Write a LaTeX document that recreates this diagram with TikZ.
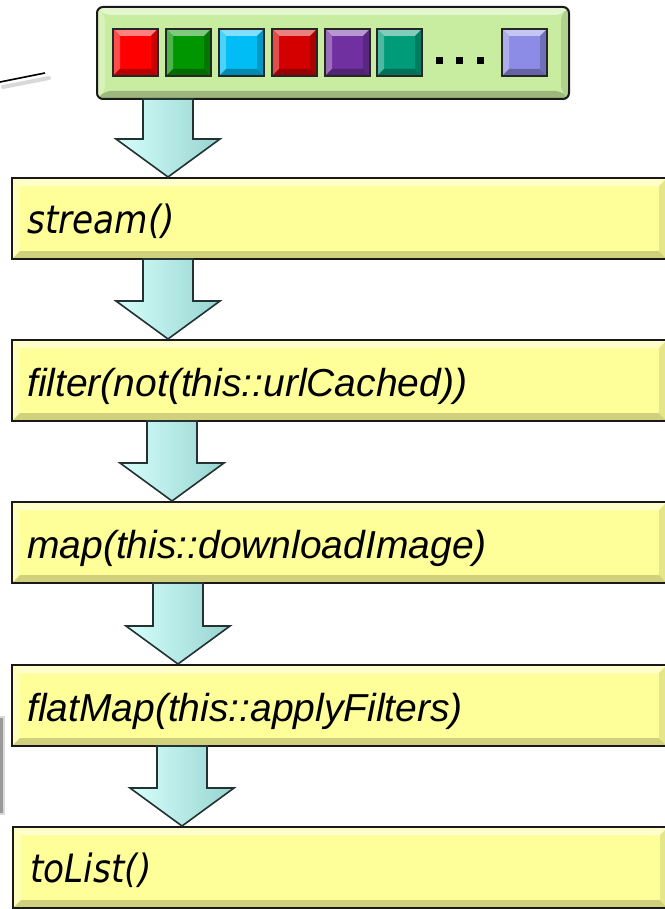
\documentclass[tikz,border=0pt]{standalone}
\usepackage{fontspec}
\setmainfont{Liberation Sans}
\newfontfamily\tahomalike[FakeStretch=0.88]{DejaVu Sans}
\usetikzlibrary{calc}

\definecolor{yellowfill}{RGB}{255,255,153}
\definecolor{greenfill}{RGB}{200,236,160}
\definecolor{cRed}{RGB}{255,0,0}
\definecolor{cGreen}{RGB}{0,150,0}
\definecolor{cCyan}{RGB}{0,190,245}
\definecolor{cDRed}{RGB}{212,0,0}
\definecolor{cPurple}{RGB}{112,48,160}
\definecolor{cTeal}{RGB}{0,155,120}
\definecolor{cLav}{RGB}{140,140,230}
\definecolor{arrowlight}{RGB}{215,255,252}
\definecolor{arrowmid}{RGB}{200,252,248}
\definecolor{arrowdark}{RGB}{150,212,208}
\definecolor{arrowline}{RGB}{35,50,50}

\newcommand\bevelpic[4]{%
 \fill[#1!50!white] (path picture bounding box.north west) -- (path picture bounding box.north east) -- ([xshift=-#2,yshift=-#2]path picture bounding box.north east) -- ([xshift=#2,yshift=-#2]path picture bounding box.north west) -- cycle;
 \fill[#1!70!white] (path picture bounding box.north west) -- ([xshift=#2,yshift=-#2]path picture bounding box.north west) -- ([xshift=#2,yshift=#2]path picture bounding box.south west) -- (path picture bounding box.south west) -- cycle;
 \fill[#1!#3!black] (path picture bounding box.south west) -- ([xshift=#2,yshift=#2]path picture bounding box.south west) -- ([xshift=-#2,yshift=#2]path picture bounding box.south east) -- (path picture bounding box.south east) -- cycle;
 \fill[#1!#4!black] (path picture bounding box.south east) -- ([xshift=-#2,yshift=#2]path picture bounding box.south east) -- ([xshift=-#2,yshift=-#2]path picture bounding box.north east) -- (path picture bounding box.north east) -- cycle;
}

\newcommand\flowarrow[3]{%
 \path[flowarr] ($(#1.south -| #3)+(-25,0)$) -- ($(#1.south -| #3)+(25,0)$)
   -- ($(#2.north -| #3)+(25,-39)$) -- ($(#2.north -| #3)+(52,-39)$)
   -- ($(#2.north -| #3)+(0,-1)$) -- ($(#2.north -| #3)+(-52,-39)$)
   -- ($(#2.north -| #3)+(-25,-39)$) -- cycle;}

\begin{document}
\begin{tikzpicture}[x=1pt,y=-1pt,
  stagebox/.style={draw=black!90, line width=2pt, fill=yellowfill, inner sep=0pt,
     outer sep=0pt, anchor=north west, minimum width=655pt, minimum height=81pt,
     path picture={\bevelpic{yellowfill}{8pt}{82}{90}}},
  listbox/.style={draw=black!90, line width=2pt, fill=greenfill, inner sep=0pt,
     outer sep=0pt, anchor=north west, rounded corners=6pt, minimum width=472pt,
     minimum height=92pt, path picture={\bevelpic{greenfill}{8pt}{78}{88}}},
  elem/.style={draw=black!85, line width=1.5pt, fill=#1, inner sep=0pt, outer sep=0pt,
     anchor=north west, minimum width=45pt, minimum height=47pt,
     path picture={\bevelpic{#1}{7pt}{72}{80}}},
  dotmark/.style={fill=black, inner sep=0pt, minimum size=7pt},
  lbl/.style={inner sep=0pt, anchor=base west, font=\fontsize{39}{46}\selectfont\itshape},
  lblb/.style={inner sep=0pt, anchor=base west, font=\fontsize{39}{46}\selectfont\tahomalike\itshape},
  flowarr/.style={draw=arrowline, line width=1.6pt, line join=miter,
     left color=arrowlight, middle color=arrowmid, right color=arrowdark}
]
\useasboundingbox (0,0) rectangle (664,909);

% fragments of callouts at the left edge
\draw[line width=4pt, black!15, line cap=round] (3,87) -- (49,78);
\draw[line width=1.6pt] (0,82) -- (45,73);
\fill[black!15] (0,716) rectangle (5,815);
\fill[black!40] (0,718) rectangle (2.5,813);

% list of elements
\node[listbox] (list) at (97,7) {};
\node[elem=cRed]    (e1) at (113,29) {};
\node[elem=cGreen]  (e2) at (166,29) {};
\node[elem=cCyan]   (e3) at (219,29) {};
\node[elem=cDRed]   (e4) at (272,29) {};
\node[elem=cPurple] (e5) at (325,29) {};
\node[elem=cTeal]   (e6) at (377,29) {};
\node[elem=cLav]    (e7) at (502,29) {};
\node[dotmark] (d1) at (439.5,60.5) {};
\node[dotmark] (d2) at (459.5,60.5) {};
\node[dotmark] (d3) at (480.5,60.5) {};

% pipeline stages
\node[stagebox] (s1) at (12,178) {};
\node[stagebox] (s2) at (12,340) {};
\node[stagebox] (s3) at (12,502) {};
\node[stagebox] (s4) at (12,665) {};
\node[stagebox] (s5) at (13,827) {};

\node[lblb] (t1) at ($(s1.west)+(15,15)$) {stream()};
\node[lbl]  (t2) at ($(s2.west)+(15,16)$) {filter(not(this::urlCached))};
\node[lbl]  (t3) at ($(s3.west)+(15,16)$) {map(this::downloadImage)};
\node[lbl]  (t4) at ($(s4.west)+(15,16)$) {flatMap(this::applyFilters)};
\node[lblb] (t5) at ($(s5.west)+(17,15)$) {toList()};

% block arrows
\coordinate (c1) at (168,0);
\coordinate (c2) at (168,0);
\coordinate (c3) at (172,0);
\coordinate (c4) at (178,0);
\coordinate (c5) at (182,0);
\flowarrow{list}{s1}{c1}
\flowarrow{s1}{s2}{c2}
\flowarrow{s2}{s3}{c3}
\flowarrow{s3}{s4}{c4}
\flowarrow{s4}{s5}{c5}
\end{tikzpicture}
\end{document}
